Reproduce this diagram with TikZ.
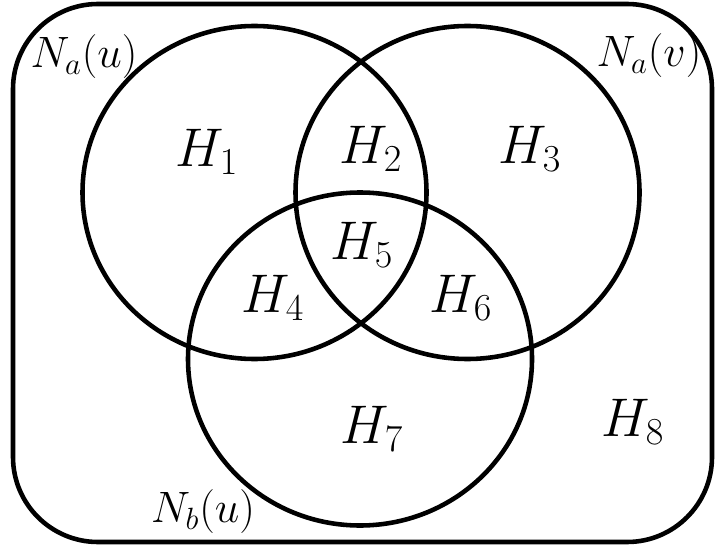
\documentclass[tikz,border=0pt]{standalone}
\usepackage{fix-cm}
\usepackage{amsmath}
\usepackage{tikz}
\tikzset{
  setline/.style={line width=2.6pt,draw=black},
  regionlbl/.style={font=\fontsize{31}{37}\selectfont,inner sep=0pt},
  setlbl/.style={font=\fontsize{25}{30}\selectfont,inner sep=0pt}
}

\begin{document}
\begin{tikzpicture}[x=0.02cm,y=0.02cm]
  \useasboundingbox (0,0) rectangle (715,548);
  % universe and the three sets
  \draw[setline,rounded corners=1.7cm] (13,6) rectangle (712,544);
  \draw[setline] (254.5,355.5) ellipse [x radius=172,y radius=166.5];
  \draw[setline] (467.5,355.5) ellipse [x radius=172,y radius=166.5];
  \draw[setline] (360,189) ellipse [x radius=172,y radius=166.5];
  % set names
  \node[setlbl] (nau) at (84,491) {$N_a(u)$};
  \node[setlbl] (nav) at (649,492) {$N_a(v)$};
  \node[setlbl] (nbu) at (203,36) {$N_b(u)$};
  % regions
  \node[regionlbl] (h1) at (207,396) {$H_1$};
  \node[regionlbl] (h2) at (371,399) {$H_2$};
  \node[regionlbl] (h3) at (530,399) {$H_3$};
  \node[regionlbl] (h5) at (362,303) {$H_5$};
  \node[regionlbl] (h4) at (273,250) {$H_4$};
  \node[regionlbl] (h6) at (461,250) {$H_6$};
  \node[regionlbl] (h7) at (372,119) {$H_7$};
  \node[regionlbl] (h8) at (633,126) {$H_8$};
\end{tikzpicture}
\end{document}
